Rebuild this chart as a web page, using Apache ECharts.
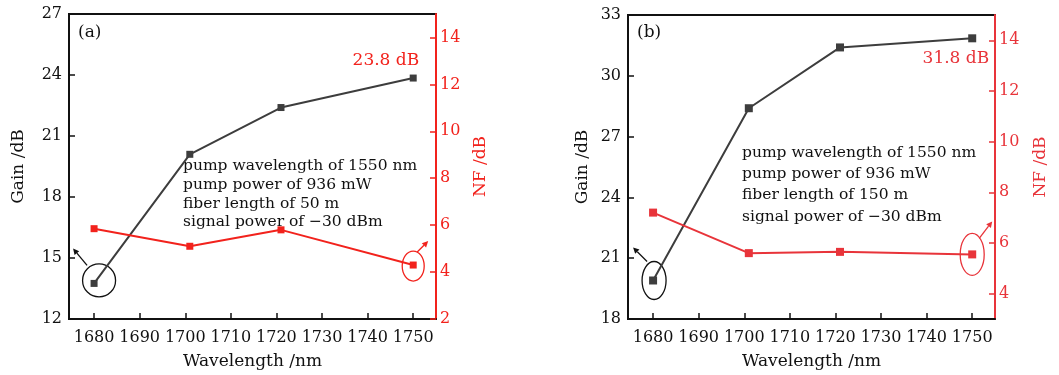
<!DOCTYPE html>
<html>
<head>
<meta charset="utf-8">
<script src="https://cdn.jsdelivr.net/npm/echarts@6/dist/echarts.min.js"></script>
<style>
  html, body { margin: 0; padding: 0; background: #fff; }
  #chart { width: 1059px; height: 375px; }
</style>
</head>
<body>
<div id="chart"></div>
<script>
// data
var wavelengthA = [1680, 1701, 1721, 1750];
var gainA = [13.75, 20.1, 22.4, 23.85];
var nfA = [5.85, 5.1, 5.8, 4.3];

var wavelengthB = [1680, 1701, 1721, 1750];
var gainB = [19.9, 28.4, 31.4, 31.85];
var nfB = [7.2, 5.6, 5.65, 5.55];

var xTicks = [1680, 1690, 1700, 1710, 1720, 1730, 1740, 1750];
var nfTicksA = [2, 4, 6, 8, 10, 12, 14];
var nfTicksB = [4, 6, 8, 10, 12, 14];

var noteA = ['pump wavelength of 1550 nm', 'pump power of 936 mW', 'fiber length of 50 m', 'signal power of \u221230 dBm'];
var noteB = ['pump wavelength of 1550 nm', 'pump power of 936 mW', 'fiber length of 150 m', 'signal power of \u221230 dBm'];

var FONT = 'DejaVu Serif';
var BLACK = '#111';
var GRAY = '#3d3d3d';
var RED = '#f2221c';
var RED_B = '#e8343a';

var chart = echarts.init(document.getElementById('chart'));

function xAxis(gridIndex) {
	return {
		type: 'value', gridIndex: gridIndex, min: 1674.5, max: 1755,
		name: 'Wavelength /nm', nameLocation: 'middle', nameGap: 34,
		nameTextStyle: { fontFamily: FONT, fontSize: 17, color: BLACK },
		axisLine: { lineStyle: { color: BLACK, width: 2 } },
		axisTick: { inside: true, length: 6, customValues: xTicks, lineStyle: { color: BLACK, width: 1.5 } },
		axisLabel: {
			customValues: xTicks, margin: 11, fontFamily: FONT, fontSize: 16, color: BLACK,
			formatter: function (v) { return String(v); }
		},
		splitLine: { show: false }
	};
}

function gainAxis(gridIndex, min, max, gap) {
	return {
		type: 'value', gridIndex: gridIndex, position: 'left', min: min, max: max, interval: 3,
		name: 'Gain /dB', nameLocation: 'middle', nameGap: gap,
		nameTextStyle: { fontFamily: FONT, fontSize: 17, color: BLACK },
		axisLine: { show: true, lineStyle: { color: BLACK, width: 2 } },
		axisTick: { show: true, inside: true, length: 6, lineStyle: { color: BLACK, width: 1.5 } },
		axisLabel: { margin: 7, fontFamily: FONT, fontSize: 16, color: BLACK },
		splitLine: { show: false }
	};
}

function nfAxis(gridIndex, min, ticks, color, gap) {
	return {
		type: 'value', gridIndex: gridIndex, position: 'right', min: min, max: 15,
		name: 'NF /dB', nameLocation: 'middle', nameGap: gap, nameRotate: 90,
		nameTextStyle: { fontFamily: FONT, fontSize: 17, color: color },
		axisLine: { show: true, lineStyle: { color: color, width: 2 } },
		axisTick: { show: true, inside: true, length: 6, customValues: ticks, lineStyle: { color: color, width: 1.5 } },
		axisLabel: { customValues: ticks, margin: 4, fontFamily: FONT, fontSize: 16, color: color },
		splitLine: { show: false }
	};
}

function pairs(xs, ys) {
	return xs.map(function (x, i) { return [x, ys[i]]; });
}

function lineSeries(xi, yi, data, color, size) {
	return {
		type: 'line', xAxisIndex: xi, yAxisIndex: yi, data: data,
		symbol: 'rect', symbolSize: size, showSymbol: true,
		lineStyle: { color: color, width: 2 },
		itemStyle: { color: color },
		animation: false
	};
}

chart.setOption({
	animation: false,
	grid: [
		{ left: 69, top: 14, width: 367, height: 310, show: true, borderColor: BLACK, borderWidth: 2 },
		{ left: 628, top: 15, width: 367, height: 309, show: true, borderColor: BLACK, borderWidth: 2 }
	],
	xAxis: [xAxis(0), xAxis(1)],
	yAxis: [
		gainAxis(0, 12, 27, 42),
		nfAxis(0, 2, nfTicksA, RED, 36),
		gainAxis(1, 18, 33, 37),
		nfAxis(1, 3, nfTicksB, RED_B, 37)
	],
	series: [
		lineSeries(0, 0, pairs(wavelengthA, gainA), GRAY, 7),
		lineSeries(0, 1, pairs(wavelengthA, nfA), RED, 7),
		lineSeries(1, 2, pairs(wavelengthB, gainB), GRAY, 8),
		lineSeries(1, 3, pairs(wavelengthB, nfB), RED_B, 8)
	]
});

function px(xi, yi, x, y) {
	return chart.convertToPixel({ xAxisIndex: xi, yAxisIndex: yi }, [x, y]);
}

function arrow(x1, y1, x2, y2, color) {
	var a = Math.atan2(y2 - y1, x2 - x1);
	var h = 6, w = 3;
	var bx = x2 - h * Math.cos(a), by = y2 - h * Math.sin(a);
	return [
		{ type: 'line', shape: { x1: x1, y1: y1, x2: bx, y2: by }, style: { stroke: color, lineWidth: 1.3 } },
		{ type: 'polygon', shape: { points: [[x2, y2], [bx - w * Math.sin(a), by + w * Math.cos(a)], [bx + w * Math.sin(a), by - w * Math.cos(a)]] }, style: { fill: color } }
	];
}

function ellipse(cx, cy, rx, ry, color) {
	return { type: 'ellipse', shape: { cx: cx, cy: cy, rx: rx, ry: ry }, style: { fill: null, stroke: color, lineWidth: 1.3 } };
}

function text(x, y, str, color, align, size) {
	return {
		type: 'text', x: x, y: y,
		style: { text: str, fill: color, font: (size || 17) + 'px "' + FONT + '"', align: align || 'left', verticalAlign: 'middle' }
	};
}

function note(x, y, lines, lh) {
	return { type: 'text', x: x, y: y, style: { text: lines.join('\n'), fill: BLACK, font: '15.5px "' + FONT + '"', lineHeight: lh, verticalAlign: 'top' } };
}

var gA0 = px(0, 0, wavelengthA[0], gainA[0]);
var gA3 = px(0, 0, wavelengthA[3], gainA[3]);
var nA3 = px(0, 1, wavelengthA[3], nfA[3]);
var gB0 = px(1, 2, wavelengthB[0], gainB[0]);
var gB3 = px(1, 2, wavelengthB[3], gainB[3]);
var nB3 = px(1, 3, wavelengthB[3], nfB[3]);

var graphics = [];
graphics.push(text(78, 33, '(a)', BLACK));
graphics.push(text(637, 33, '(b)', BLACK));
graphics.push(text(gA3[0] + 6, gA3[1] - 17, '23.8 dB', RED, 'right'));
graphics.push(text(gB3[0] + 17, gB3[1] + 20, '31.8 dB', RED_B, 'right'));
graphics.push(note(183, 157, noteA, 18.7));
graphics.push(note(742, 142, noteB, 21.3));

graphics.push(ellipse(gA0[0] + 5, gA0[1] - 3, 16.5, 16.5, BLACK));
graphics = graphics.concat(arrow(gA0[0] - 7, gA0[1] - 18, gA0[0] - 21, gA0[1] - 35, BLACK));
graphics.push(ellipse(nA3[0], nA3[1] + 1, 11, 15, RED));
graphics = graphics.concat(arrow(nA3[0] + 4, nA3[1] - 13, nA3[0] + 15, nA3[1] - 24, RED));

graphics.push(ellipse(gB0[0] + 1, gB0[1], 12, 19, BLACK));
graphics = graphics.concat(arrow(gB0[0] - 6, gB0[1] - 19, gB0[0] - 20, gB0[1] - 33, BLACK));
graphics.push(ellipse(nB3[0], nB3[1], 12, 21, RED_B));
graphics = graphics.concat(arrow(nB3[0] + 7, nB3[1] - 16, nB3[0] + 20, nB3[1] - 33, RED_B));

chart.setOption({ graphic: graphics });
</script>
</body>
</html>
